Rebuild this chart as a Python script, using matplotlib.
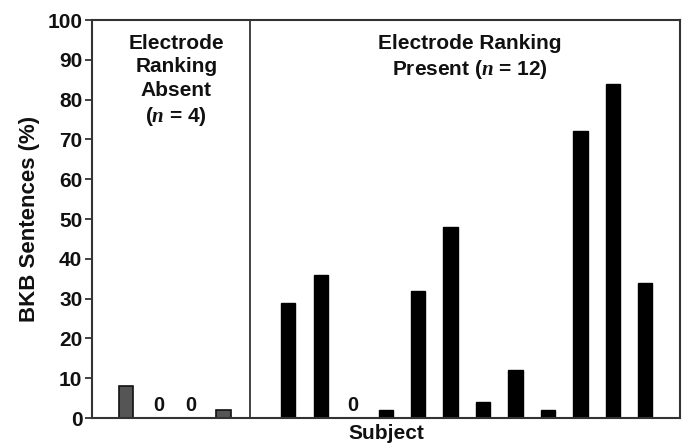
import matplotlib
matplotlib.use("Agg")
import matplotlib.pyplot as plt
import numpy as np

plt.rcParams['font.family'] = ['Liberation Sans', 'DejaVu Sans']
plt.rcParams['mathtext.fontset'] = 'custom'
plt.rcParams['mathtext.it'] = 'Liberation Serif:italic:bold'

absent_values = [8, 0, 0, 2]
present_values = [29, 36, 0, 2, 32, 48, 4, 12, 2, 72, 84, 34]
yticks = [0, 10, 20, 30, 40, 50, 60, 70, 80, 90, 100]

absent_x = np.arange(len(absent_values))
present_x = np.arange(len(present_values)) + len(absent_values) + 1

fig = plt.figure(figsize=(6.88, 4.44), dpi=100)
ax = fig.add_axes([92/688, 1 - 418/444, (680-92)/688, (418-20)/444])

bw = 0.44
ax.bar(absent_x, absent_values, width=bw, color='#555555', edgecolor='#111111', linewidth=1.2)
ax.bar(present_x, present_values, width=bw, color='black', edgecolor='black', linewidth=1.0)

for x, v in zip(absent_x, absent_values):
    if v == 0:
        ax.text(x, 0.8, '0', ha='center', va='bottom', fontsize=14.5, fontweight='bold', color='#111111')
for x, v in zip(present_x, present_values):
    if v == 0:
        ax.text(x, 0.8, '0', ha='center', va='bottom', fontsize=14.5, fontweight='bold', color='#111111')

ax.set_xlim(-1.05, 17.07)
ax.set_ylim(0, 100)
ax.axvline(3.82, color='#333333', linewidth=1.3)

ax.set_yticks(yticks)
ax.set_yticklabels([str(t) for t in yticks], fontsize=15, fontweight='bold', color='#111111')
ax.set_xticks([])
ax.tick_params(axis='y', direction='out', length=5, width=1.3, color='#333333', pad=2)
for s in ax.spines.values():
    s.set_linewidth(1.5)
    s.set_color('#333333')

ax.set_ylabel('BKB Sentences (%)', fontsize=16, fontweight='bold', color='#111111', labelpad=5)
ax.set_xlabel('Subject', fontsize=15, fontweight='bold', color='#111111', labelpad=4)

ax.text(1.55, 96.5, 'Electrode\nRanking\nAbsent\n($\\mathit{n}$ = 4)', ha='center', va='top',
        fontsize=15, fontweight='bold', color='#111111', linespacing=1.3)
ax.text(10.6, 96.5, 'Electrode Ranking\nPresent ($\\mathit{n}$ = 12)', ha='center', va='top',
        fontsize=15, fontweight='bold', color='#111111', linespacing=1.3)

fig.savefig('out.png', dpi=100)
